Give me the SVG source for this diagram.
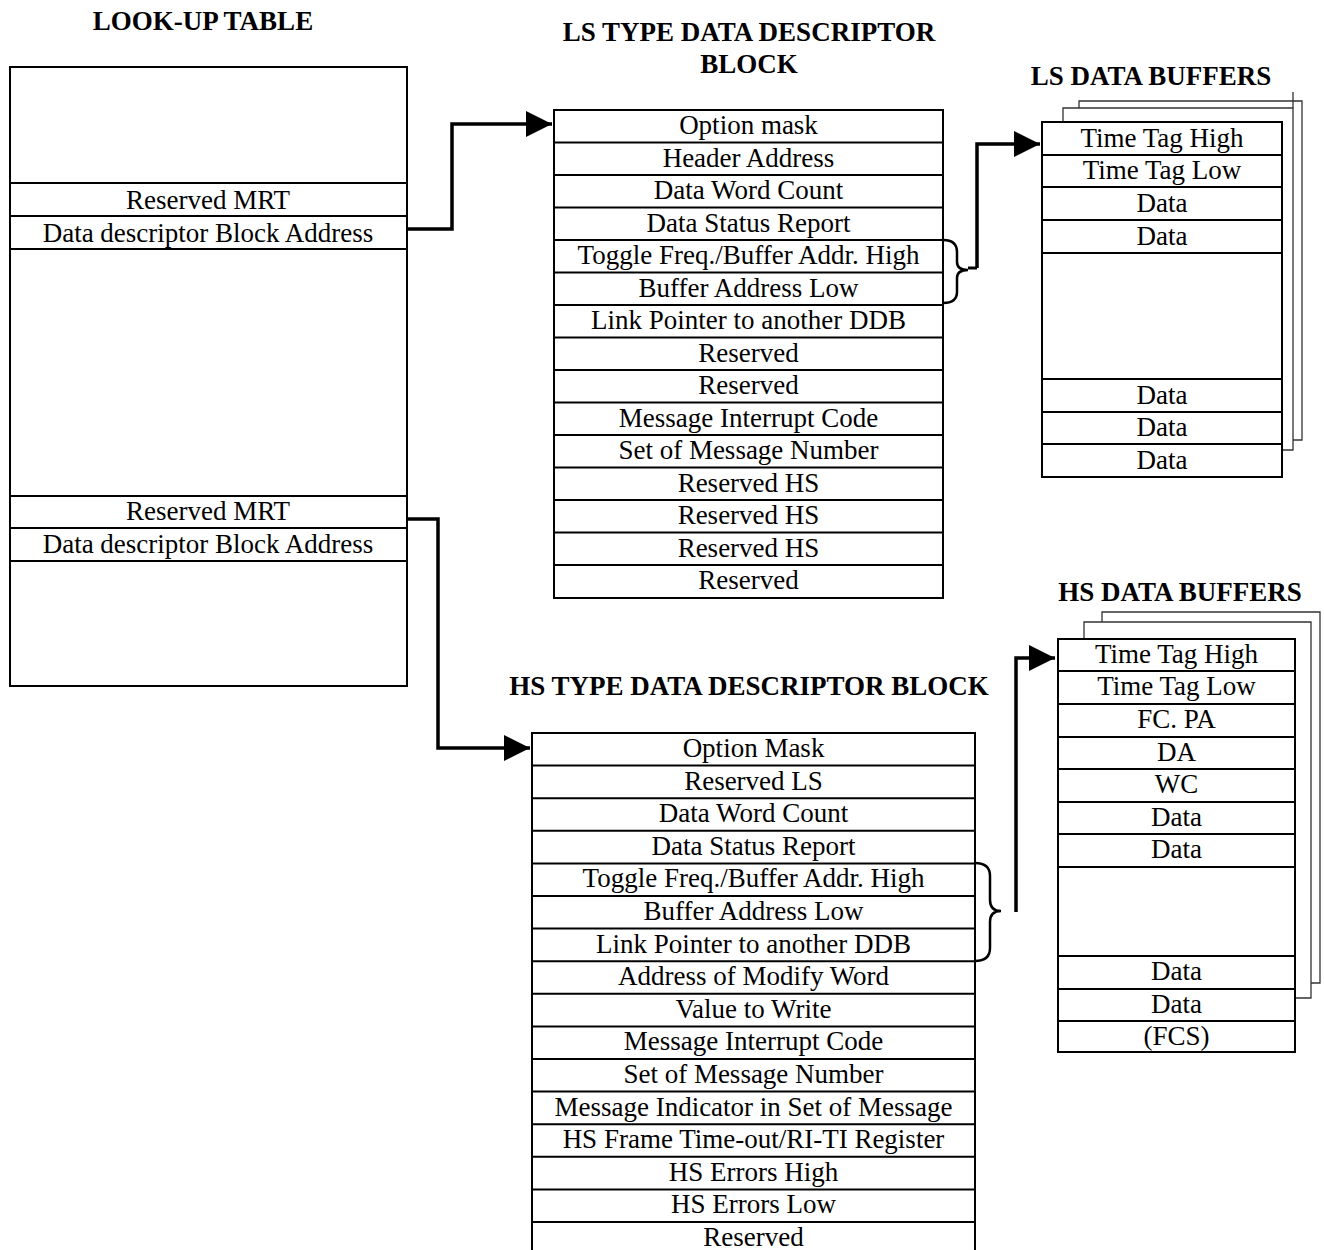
<svg xmlns="http://www.w3.org/2000/svg" width="1324" height="1250" viewBox="0 0 1324 1250" font-family="'Liberation Serif', 'DejaVu Serif', serif">
<style>
text{font-family:'Liberation Serif','DejaVu Serif',serif;font-size:27px;fill:#000;text-anchor:middle}
.t{font-weight:bold}
.box{fill:#fff;stroke:#000;stroke-width:2}
.row{stroke:#000;stroke-width:2}
.pg{fill:#fff;stroke:#333;stroke-width:1.3}
.con{fill:none;stroke:#000;stroke-width:3.5}
.brace{fill:none;stroke:#000;stroke-width:2.5}
</style>
<defs>
<marker id="ah" markerUnits="userSpaceOnUse" markerWidth="26" markerHeight="26" viewBox="0 0 26 26" refX="26" refY="13" orient="auto">
<path d="M0,0 L26,13 L0,26 z" fill="#000"/>
</marker>
</defs>
<rect width="1324" height="1250" fill="#fff"/>

<g id="lookup">
<text class="t" x="203" y="30">LOOK-UP TABLE</text>
<rect class="box" x="10" y="67" width="397" height="619"/>
<line class="row" x1="10" y1="183" x2="407" y2="183"/>
<line class="row" x1="10" y1="216" x2="407" y2="216"/>
<line class="row" x1="10" y1="249" x2="407" y2="249"/>
<line class="row" x1="10" y1="496" x2="407" y2="496"/>
<line class="row" x1="10" y1="528" x2="407" y2="528"/>
<line class="row" x1="10" y1="561" x2="407" y2="561"/>
<text x="208" y="209">Reserved MRT</text>
<text x="208" y="242">Data descriptor Block Address</text>
<text x="208" y="520">Reserved MRT</text>
<text x="208" y="553">Data descriptor Block Address</text>
</g>

<g id="ls-ddb">
<text class="t" x="749" y="41">LS TYPE DATA DESCRIPTOR</text>
<text class="t" x="749" y="73">BLOCK</text>
<rect class="box" x="554" y="110" width="389" height="488"/>
<g class="row">
<line x1="554" y1="142.5" x2="943" y2="142.5"/>
<line x1="554" y1="175" x2="943" y2="175"/>
<line x1="554" y1="207.5" x2="943" y2="207.5"/>
<line x1="554" y1="240" x2="943" y2="240"/>
<line x1="554" y1="272.5" x2="943" y2="272.5"/>
<line x1="554" y1="305" x2="943" y2="305"/>
<line x1="554" y1="337.5" x2="943" y2="337.5"/>
<line x1="554" y1="370" x2="943" y2="370"/>
<line x1="554" y1="402.5" x2="943" y2="402.5"/>
<line x1="554" y1="435" x2="943" y2="435"/>
<line x1="554" y1="467.5" x2="943" y2="467.5"/>
<line x1="554" y1="500" x2="943" y2="500"/>
<line x1="554" y1="532.5" x2="943" y2="532.5"/>
<line x1="554" y1="565" x2="943" y2="565"/>
</g>
<text x="748.5" y="134">Option mask</text>
<text x="748.5" y="166.5">Header Address</text>
<text x="748.5" y="199">Data Word Count</text>
<text x="748.5" y="231.5">Data Status Report</text>
<text x="748.5" y="264">Toggle Freq./Buffer Addr. High</text>
<text x="748.5" y="296.5">Buffer Address Low</text>
<text x="748.5" y="329">Link Pointer to another DDB</text>
<text x="748.5" y="361.5">Reserved</text>
<text x="748.5" y="394">Reserved</text>
<text x="748.5" y="426.5">Message Interrupt Code</text>
<text x="748.5" y="459">Set of Message Number</text>
<text x="748.5" y="491.5">Reserved HS</text>
<text x="748.5" y="524">Reserved HS</text>
<text x="748.5" y="556.5">Reserved HS</text>
<text x="748.5" y="589">Reserved</text>
</g>

<g id="ls-buffers">
<text class="t" x="1151" y="85">LS DATA BUFFERS</text>
<path class="pg" d="M1079,122 V101 H1302 V440 H1293"/>
<path class="pg" d="M1063,122 V108 H1293 V450 H1282"/>
<line class="pg" x1="1293" y1="92" x2="1293" y2="108"/>
<rect class="box" x="1042" y="122" width="240" height="355"/>
<g class="row">
<line x1="1042" y1="155" x2="1282" y2="155"/>
<line x1="1042" y1="187" x2="1282" y2="187"/>
<line x1="1042" y1="220" x2="1282" y2="220"/>
<line x1="1042" y1="253" x2="1282" y2="253"/>
<line x1="1042" y1="379" x2="1282" y2="379"/>
<line x1="1042" y1="412" x2="1282" y2="412"/>
<line x1="1042" y1="444" x2="1282" y2="444"/>
</g>
<text x="1162" y="147">Time Tag High</text>
<text x="1162" y="179">Time Tag Low</text>
<text x="1162" y="212">Data</text>
<text x="1162" y="245">Data</text>
<text x="1162" y="404">Data</text>
<text x="1162" y="436">Data</text>
<text x="1162" y="469">Data</text>
</g>

<g id="hs-ddb">
<text class="t" x="749" y="695">HS TYPE DATA DESCRIPTOR BLOCK</text>
<rect class="box" x="532" y="733" width="443" height="523"/>
<g class="row">
<line x1="532" y1="765.6" x2="975" y2="765.6"/>
<line x1="532" y1="798.2" x2="975" y2="798.2"/>
<line x1="532" y1="830.8" x2="975" y2="830.8"/>
<line x1="532" y1="863.4" x2="975" y2="863.4"/>
<line x1="532" y1="896" x2="975" y2="896"/>
<line x1="532" y1="928.6" x2="975" y2="928.6"/>
<line x1="532" y1="961.2" x2="975" y2="961.2"/>
<line x1="532" y1="993.8" x2="975" y2="993.8"/>
<line x1="532" y1="1026.4" x2="975" y2="1026.4"/>
<line x1="532" y1="1059" x2="975" y2="1059"/>
<line x1="532" y1="1091.6" x2="975" y2="1091.6"/>
<line x1="532" y1="1124.2" x2="975" y2="1124.2"/>
<line x1="532" y1="1156.8" x2="975" y2="1156.8"/>
<line x1="532" y1="1189.4" x2="975" y2="1189.4"/>
<line x1="532" y1="1222" x2="975" y2="1222"/>
</g>
<text x="753.5" y="757">Option Mask</text>
<text x="753.5" y="789.6">Reserved LS</text>
<text x="753.5" y="822.2">Data Word Count</text>
<text x="753.5" y="854.8">Data Status Report</text>
<text x="753.5" y="887.4">Toggle Freq./Buffer Addr. High</text>
<text x="753.5" y="920">Buffer Address Low</text>
<text x="753.5" y="952.6">Link Pointer to another DDB</text>
<text x="753.5" y="985.2">Address of Modify Word</text>
<text x="753.5" y="1017.8">Value to Write</text>
<text x="753.5" y="1050.4">Message Interrupt Code</text>
<text x="753.5" y="1083">Set of Message Number</text>
<text x="753.5" y="1115.6">Message Indicator in Set of Message</text>
<text x="753.5" y="1148.2">HS Frame Time-out/RI-TI Register</text>
<text x="753.5" y="1180.8">HS Errors High</text>
<text x="753.5" y="1213.4">HS Errors Low</text>
<text x="753.5" y="1246">Reserved</text>
</g>

<g id="hs-buffers">
<text class="t" x="1180" y="601">HS DATA BUFFERS</text>
<path class="pg" d="M1102,622 V612 H1320 V983 H1311"/>
<path class="pg" d="M1084,639 V622 H1311 V998 H1295"/>
<rect class="box" x="1058" y="639" width="237" height="413"/>
<g class="row">
<line x1="1058" y1="671" x2="1295" y2="671"/>
<line x1="1058" y1="704" x2="1295" y2="704"/>
<line x1="1058" y1="737" x2="1295" y2="737"/>
<line x1="1058" y1="769" x2="1295" y2="769"/>
<line x1="1058" y1="802" x2="1295" y2="802"/>
<line x1="1058" y1="834" x2="1295" y2="834"/>
<line x1="1058" y1="867" x2="1295" y2="867"/>
<line x1="1058" y1="956" x2="1295" y2="956"/>
<line x1="1058" y1="989" x2="1295" y2="989"/>
<line x1="1058" y1="1021" x2="1295" y2="1021"/>
</g>
<text x="1176.5" y="663">Time Tag High</text>
<text x="1176.5" y="695">Time Tag Low</text>
<text x="1176.5" y="728">FC. PA</text>
<text x="1176.5" y="761">DA</text>
<text x="1176.5" y="793">WC</text>
<text x="1176.5" y="826">Data</text>
<text x="1176.5" y="858">Data</text>
<text x="1176.5" y="980">Data</text>
<text x="1176.5" y="1013">Data</text>
<text x="1176.5" y="1045">(FCS)</text>
</g>

<g id="connectors">
<polyline class="con" points="407,229 452,229 452,124 552,124" marker-end="url(#ah)"/>
<polyline class="con" points="407,519 438,519 438,748 530,748" marker-end="url(#ah)"/>
<path class="brace" d="M943,240 Q957,240 957,252 V262 Q957,270 968,270 Q957,270 957,278 V292 Q957,303 943,303"/>
<line class="con" x1="968" y1="268" x2="977" y2="268" style="stroke-width:3"/>
<polyline class="con" points="977,268 977,144 1040,144" marker-end="url(#ah)"/>
<path class="brace" d="M975,863 Q990,863 990,876 V900 Q990,911 1001,911 Q990,911 990,922 V948 Q990,961 975,961"/>
<polyline class="con" points="1016,912 1016,658 1055,658" marker-end="url(#ah)"/>
</g>
</svg>
